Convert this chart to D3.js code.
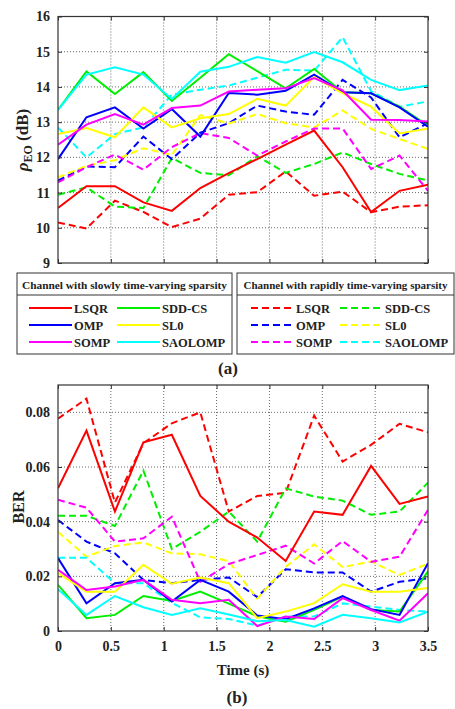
<!DOCTYPE html>
<html><head><meta charset="utf-8">
<script src="https://cdn.jsdelivr.net/npm/d3@7"></script>
<style>body{margin:0;background:#fff}svg{display:block}</style>
</head><body>
<svg id="c" width="455" height="709"></svg>
<script>
// ---------- DATA ----------
const nPts = 14;                           // time = idx*3.5/13
const methods = ["LSQR","SDD-CS","OMP","SL0","SOMP","SAOLOMP"];
const colors  = ["#ff0000","#00ee00","#0000ff","#ffff00","#ff00ff","#00ffff"];
const xTicks = [0,0.5,1,1.5,2,2.5,3,3.5];
const yTicksTop = [9,10,11,12,13,14,15,16];
const yTicksBot = [0,0.02,0.04,0.06,0.08];

// (a) rho_EO (dB), slowly time-varying sparsity (solid)
const lsqrSlow = [10.56,11.18,11.18,10.72,10.48,11.13,11.55,11.95,12.36,12.76,11.72,10.45,11.05,11.22];
const sddSlow  = [13.35,14.44,13.80,14.42,13.60,14.26,14.93,14.45,13.96,14.51,13.85,13.82,13.44,12.90];
const ompSlow  = [11.95,13.14,13.42,12.82,13.37,12.59,13.83,13.78,13.89,14.35,13.85,13.82,13.42,12.87];
const sl0Slow  = [12.66,12.83,12.57,13.42,12.85,13.11,13.23,13.66,13.47,14.28,13.82,13.44,12.68,12.82];
const sompSlow = [12.36,12.93,13.23,12.93,13.40,13.47,13.87,13.92,13.96,14.25,13.90,13.07,13.06,13.02];
const saoSlow  = [13.35,14.35,14.56,14.35,13.66,14.43,14.57,14.85,14.69,14.99,14.70,14.20,13.91,14.04];
// (a) rapidly time-varying sparsity (dashed)
const lsqrRapid = [10.15,9.98,10.77,10.45,10.02,10.26,10.94,11.01,11.60,10.91,11.03,10.44,10.60,10.64];
const sddRapid  = [10.94,11.15,10.60,10.56,11.98,11.56,11.49,12.03,11.56,11.81,12.14,11.81,11.53,11.34];
const ompRapid  = [11.34,11.74,11.72,12.59,11.95,12.70,12.97,13.47,13.30,13.21,14.20,13.70,12.57,12.97];
const sl0Rapid  = [11.43,11.76,11.92,12.26,12.07,13.20,12.96,13.23,12.97,12.85,13.33,12.81,12.52,12.24];
const sompRapid = [11.29,11.72,12.08,11.65,12.29,12.69,12.55,12.05,12.45,12.82,12.82,11.67,12.05,11.05];
const saoRapid  = [12.85,12.00,12.66,12.85,13.78,13.92,14.04,14.26,14.49,14.46,15.41,13.88,13.44,13.59];

// (b) BER, slow (solid)
const lsqrSlowBer = [0.0522,0.0733,0.0437,0.0690,0.0718,0.0494,0.0400,0.0342,0.0256,0.0437,0.0425,0.0604,0.0465,0.0492];
const sddSlowBer  = [0.0169,0.0047,0.0059,0.0128,0.0110,0.0144,0.0100,0.0054,0.0034,0.0077,0.0126,0.0077,0.0071,0.0218];
const ompSlowBer  = [0.0267,0.0101,0.0175,0.0187,0.0108,0.0187,0.0144,0.0057,0.0043,0.0083,0.0128,0.0080,0.0059,0.0248];
const sl0SlowBer  = [0.0212,0.0144,0.0144,0.0242,0.0173,0.0196,0.0175,0.0047,0.0071,0.0102,0.0171,0.0144,0.0144,0.0157];
const sompSlowBer = [0.0224,0.0150,0.0163,0.0187,0.0114,0.0102,0.0114,0.0018,0.0053,0.0044,0.0120,0.0077,0.0038,0.0138];
const saoSlowBer  = [0.0153,0.0059,0.0128,0.0087,0.0059,0.0083,0.0060,0.0036,0.0040,0.0016,0.0059,0.0047,0.0031,0.0071];
// (b) BER, rapid (dashed)
const lsqrRapidBer = [0.0777,0.0850,0.0470,0.0687,0.0760,0.0800,0.0437,0.0494,0.0506,0.0788,0.0620,0.0681,0.0758,0.0727];
const sddRapidBer  = [0.0422,0.0422,0.0384,0.0587,0.0300,0.0363,0.0437,0.0327,0.0522,0.0492,0.0477,0.0425,0.0437,0.0543];
const ompRapidBer  = [0.0406,0.0327,0.0284,0.0187,0.0175,0.0187,0.0196,0.0124,0.0226,0.0214,0.0214,0.0144,0.0180,0.0193];
const sl0RapidBer  = [0.0363,0.0272,0.0311,0.0324,0.0284,0.0281,0.0255,0.0118,0.0235,0.0317,0.0234,0.0254,0.0205,0.0246];
const sompRapidBer = [0.0480,0.0451,0.0327,0.0339,0.0418,0.0180,0.0245,0.0278,0.0312,0.0247,0.0329,0.0253,0.0272,0.0443];
const saoRapidBer  = [0.0268,0.0268,0.0175,0.0175,0.0103,0.0050,0.0044,0.0020,0.0053,0.0053,0.0101,0.0089,0.0077,0.0071];

const topSlow  = [lsqrSlow,sddSlow,ompSlow,sl0Slow,sompSlow,saoSlow];
const topRapid = [lsqrRapid,sddRapid,ompRapid,sl0Rapid,sompRapid,saoRapid];
const botSlow  = [lsqrSlowBer,sddSlowBer,ompSlowBer,sl0SlowBer,sompSlowBer,saoSlowBer];
const botRapid = [lsqrRapidBer,sddRapidBer,ompRapidBer,sl0RapidBer,sompRapidBer,saoRapidBer];

// ---------- DRAW ----------
const svg = d3.select("#c");
const FONT = "'Liberation Serif','Times New Roman',serif";
const L = 58, R = 428;
const x = d3.scaleLinear().domain([0,3.5]).range([L,R]);
const tOf = i => i*3.5/(nPts-1);
const DASH = "7,4";

function panel(top, bottom, yDomain, yTicks, fmt, slow, rapid, showX){
  const y = d3.scaleLinear().domain(yDomain).range([bottom, top]);
  const g = svg.append("g");
  g.append("g").selectAll("line").data(xTicks.slice(1,-1)).join("line")
    .attr("x1",d=>x(d)).attr("x2",d=>x(d)).attr("y1",top).attr("y2",bottom)
    .attr("stroke","#444").attr("stroke-width",0.8).attr("stroke-dasharray","1,2");
  g.append("g").selectAll("line").data(yTicks.filter(v=>v>yDomain[0]&&v<yDomain[1])).join("line")
    .attr("x1",L).attr("x2",R).attr("y1",d=>y(d)).attr("y2",d=>y(d))
    .attr("stroke","#444").attr("stroke-width",0.8).attr("stroke-dasharray","1,2");
  const line = d3.line().x((d,i)=>x(tOf(i))).y(d=>y(d));
  const clipId = "clip"+Math.round(top);
  svg.append("clipPath").attr("id",clipId).append("rect").attr("x",L).attr("y",top).attr("width",R-L).attr("height",bottom-top);
  const lg = g.append("g").attr("clip-path",`url(#${clipId})`);
  rapid.forEach((s,k)=>lg.append("path").attr("d",line(s)).attr("fill","none")
    .attr("stroke",colors[k]).attr("stroke-width",2).attr("stroke-dasharray",DASH));
  slow.forEach((s,k)=>lg.append("path").attr("d",line(s)).attr("fill","none")
    .attr("stroke",colors[k]).attr("stroke-width",2));
  const ya = d3.axisLeft(y).tickValues(yTicks).tickFormat(fmt).tickSize(4).tickPadding(4);
  const yr = d3.axisRight(y).tickValues(yTicks).tickFormat("").tickSize(4);
  const xa = d3.axisBottom(x).tickValues(xTicks).tickFormat(showX? (d=>d3.format("")(d)) : "").tickSize(4).tickPadding(6);
  const xt = d3.axisTop(x).tickValues(xTicks).tickFormat("").tickSize(4);
  const sty = s => { s.select(".domain").remove(); s.selectAll("line").attr("stroke","#333");
    s.selectAll("text").attr("font-family",FONT).attr("font-weight","bold").attr("font-size",14).attr("fill","#222"); };
  g.append("g").attr("transform",`translate(${L},0)`).call(ya).call(s=>{sty(s); s.selectAll("line").attr("x2",4);});
  g.append("g").attr("transform",`translate(${R},0)`).call(yr).call(s=>{sty(s); s.selectAll("line").attr("x2",-4);});
  g.append("g").attr("transform",`translate(0,${bottom})`).call(xa).call(s=>{sty(s); s.selectAll("line").attr("y2",-4);});
  g.append("g").attr("transform",`translate(0,${top})`).call(xt).call(s=>{sty(s); s.selectAll("line").attr("y2",4);});
  g.append("rect").attr("x",L).attr("y",top).attr("width",R-L).attr("height",bottom-top)
    .attr("fill","none").attr("stroke","#333").attr("stroke-width",1.2);
  return y;
}

panel(16.5, 263, [9,16], yTicksTop, d3.format("d"), topSlow, topRapid, false);
panel(385, 631, [0,0.09], yTicksBot, d=> d===0?"0":d3.format(".2f")(d), botSlow, botRapid, true);

// y labels
const yl = svg.append("text").attr("transform","translate(28,140) rotate(-90)")
  .attr("text-anchor","middle").attr("font-family",FONT).attr("font-weight","bold").attr("font-size",17).attr("fill","#222");
yl.append("tspan").attr("font-style","italic").text("ρ");
yl.append("tspan").attr("font-size",12).attr("dy",4).text("EO");
yl.append("tspan").attr("dy",-4).text(" (dB)");

svg.append("text").attr("transform","translate(24,507) rotate(-90)")
  .attr("text-anchor","middle").attr("font-family",FONT).attr("font-weight","bold").attr("font-size",16).attr("fill","#222").text("BER");

svg.append("text").attr("x",243).attr("y",675).attr("text-anchor","middle").attr("font-family",FONT)
  .attr("font-weight","bold").attr("font-size",15).attr("fill","#222").text("Time (s)");
svg.append("text").attr("x",228).attr("y",374).attr("text-anchor","middle").attr("font-family",FONT)
  .attr("font-weight","bold").attr("font-size",17).attr("fill","#222").text("(a)");
svg.append("text").attr("x",237).attr("y",703).attr("text-anchor","middle").attr("font-family",FONT)
  .attr("font-weight","bold").attr("font-size",17).attr("fill","#222").text("(b)");

// legends
function legend(x0, x1, title, titleW, dashed, cols){
  const top = 273, mid = 295, bot = 354;
  const g = svg.append("g");
  g.append("rect").attr("x",x0).attr("y",top).attr("width",x1-x0).attr("height",bot-top)
    .attr("fill","#fff").attr("stroke","#333").attr("stroke-width",1);
  g.append("line").attr("x1",x0).attr("x2",x1).attr("y1",mid).attr("y2",mid).attr("stroke","#333");
  g.append("text").attr("x",(x0+x1)/2).attr("y",288.5).attr("text-anchor","middle").attr("font-family",FONT)
    .attr("font-weight","bold").attr("font-size",11.2).attr("fill","#222")
    .attr("textLength",titleW).attr("lengthAdjust","spacingAndGlyphs").text(title);
  const rows = [308,325,342];
  const order = [[0,1],[2,3],[4,5]];
  order.forEach((pair,r)=>pair.forEach((k,c)=>{
    const lx = cols[c];
    g.append("line").attr("x1",lx).attr("x2",lx+43).attr("y1",rows[r]).attr("y2",rows[r])
      .attr("stroke",colors[k]).attr("stroke-width",2).attr("stroke-dasharray",dashed?DASH:null);
    g.append("text").attr("x",lx+45).attr("y",rows[r]+4.5).attr("font-family",FONT)
      .attr("font-weight","bold").attr("font-size",12.5).attr("fill","#222").text(methods[k]);
  }));
}
legend(17, 232, "Channel with slowly time-varying sparsity", 205, false, [29,117]);
legend(237, 454, "Channel with rapidly time-varying sparsity", 204, true, [251,340]);
</script>
</body></html>
